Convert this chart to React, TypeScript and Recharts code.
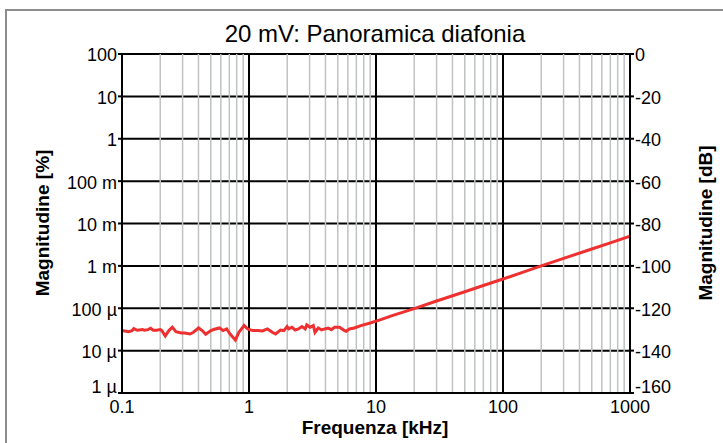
import React from 'react';
import { LineChart, Line, XAxis, YAxis, CartesianGrid, ReferenceLine } from 'recharts';

// Frequency in kHz
const freqKHz = [
  0.1, 0.1127, 0.1202, 0.124, 0.132, 0.1455, 0.15, 0.16, 0.168, 0.176, 0.1875, 0.2, 0.206, 0.219, 0.234,
  0.249, 0.266, 0.292, 0.311, 0.343, 0.365, 0.401, 0.428, 0.456, 0.501, 0.534, 0.587, 0.625, 0.667, 0.71,
  0.781, 0.832, 0.915, 0.975, 1.068, 1.168, 1.277, 1.396, 1.525, 1.618, 1.77, 1.88, 1.995, 2.05, 2.18,
  2.31, 2.45, 2.61, 2.77, 2.85, 3.03, 3.21, 3.31, 3.51, 3.73, 3.95, 4.2, 4.45, 4.72, 5.16,
  5.65, 5.82, 6.18, 6.75, 7.6, 9, 10.9, 13.4, 20, 30, 50, 70, 100, 150, 200,
  300, 500, 700, 1000,
];

// Magnitude in micro-percent (µ%)
const magMicroPct = [
  29.7, 28.1, 29.7, 33.1, 30.2, 31.3, 30.2, 31.3, 33.7, 30.2, 30.2, 31.3, 29.7, 22.2, 29.7,
  35.6, 28.1, 26.1, 26.1, 24.7, 27.1, 34.2, 29.7, 24.3, 29.7, 31.9, 34.2, 29.7, 32.5, 24.7,
  17.8, 27.1, 39.0, 32.5, 29.7, 29.7, 29.2, 32.5, 27.1, 24.7, 30.7, 29.7, 36.9, 32.5, 35.6,
  30.7, 32.5, 36.9, 32.5, 40.4, 35.6, 39.0, 27.1, 34.2, 30.7, 32.5, 34.2, 31.3, 35.6, 35.6,
  29.7, 28.7, 32.5, 34.2, 39.0, 45, 54, 67, 98, 148, 245, 345, 490, 740, 1000,
  1500, 2500, 3500, 5000,
];

const xTicks = [0.1, 1, 10, 100, 1000];
const xTickLabels = ['0.1', '1', '10', '100', '1000'];
const yPctTicks = [100, 10, 1, 0.1, 0.01, 0.001, 0.0001, 0.00001, 0.000001];
const yPctLabels = ['100', '10', '1', '100 m', '10 m', '1 m', '100 µ', '10 µ', '1 µ'];
const yDbTicks = [0, -20, -40, -60, -80, -100, -120, -140, -160];
const decades = [0.1, 1, 10, 100];
const minorMultipliers = [2, 3, 4, 5, 6, 7, 8, 9];
const majorLines = [1, 10, 100];

// dB equivalent of the same magnitude (100 % = 0 dB)
const data = freqKHz.map((f, i) => {
  const m = magMicroPct[i] * 1e-6;
  return { f, m, db: 20 * Math.log10(m / 100) };
});
const minorLines = decades.flatMap((d) => minorMultipliers.map((k) => +(d * k).toPrecision(3)));

const closestLabel = (v: number, ticks: number[], labels: string[]) => {
  let best = 0;
  let bestD = Infinity;
  ticks.forEach((t, i) => {
    const d = Math.abs(Math.log10(t) - Math.log10(v));
    if (d < bestD) { bestD = d; best = i; }
  });
  return labels[best];
};

const FONT = '"Liberation Sans", Arial, sans-serif';

const PctTick = (props: any) => {
  const { x, y, payload, textAnchor } = props;
  const isBottom = payload.value <= 1.01e-6;
  return (
    <text x={x} y={y + (isBottom ? -6 : 1)} dy="0.355em" textAnchor={textAnchor} fill="#000" fontSize={18} fontFamily={FONT}>
      {closestLabel(payload.value, yPctTicks, yPctLabels)}
    </text>
  );
};

const DbTick = (props: any) => {
  const { x, y, payload, textAnchor } = props;
  const isBottom = payload.value <= -160;
  return (
    <text x={x} y={y + (isBottom ? -6 : 1)} dy="0.355em" textAnchor={textAnchor} fill="#000" fontSize={18} fontFamily={FONT}>
      {String(payload.value)}
    </text>
  );
};

export default function App() {
  return (
    <div style={{ position: 'absolute', left: 0, top: 0, width: 723, height: 443, background: '#fff', fontFamily: FONT, overflow: 'hidden' }}>
      <div style={{ position: 'absolute', left: 5, top: 9, width: 730, height: 450, border: '2px solid #8c8c8c', boxSizing: 'border-box' }} />
      <div style={{ position: 'absolute', left: 0, top: 22, width: 750, textAlign: 'center', fontSize: 24, lineHeight: '24px', color: '#000' }}>
        20 mV: Panoramica diafonia
      </div>
      <div style={{ position: 'absolute', left: 42, top: 223, transform: 'translate(-50%,-50%) rotate(-90deg)', whiteSpace: 'nowrap', fontWeight: 'bold', fontSize: 19, lineHeight: '19px', color: '#000' }}>
        Magnitudine [%]
      </div>
      <div style={{ position: 'absolute', left: 705, top: 223, transform: 'translate(-50%,-50%) rotate(-90deg)', whiteSpace: 'nowrap', fontWeight: 'bold', fontSize: 19, lineHeight: '19px', color: '#000' }}>
        Magnitudine [dB]
      </div>
      <div style={{ position: 'absolute', left: 0, top: 418, width: 750, textAlign: 'center', fontWeight: 'bold', fontSize: 19, lineHeight: '19px', color: '#000' }}>
        Frequenza [kHz]
      </div>
      <div style={{ position: 'absolute', left: 0, top: 0 }}>
        <LineChart width={723} height={443} data={data} margin={{ top: 54, right: 0, bottom: 0, left: 0 }} style={{ fontFamily: FONT }}>
          <XAxis
            dataKey="f"
            type="number"
            scale="log"
            domain={[0.1, 1000]}
            ticks={xTicks}
            allowDataOverflow
            height={50}
            tickLine={false}
            tickSize={5}
            tickMargin={2}
            axisLine={{ stroke: '#000', strokeWidth: 2 }}
            tick={{ fill: '#000', fontSize: 18 }}
            tickFormatter={(v: number) => closestLabel(v, xTicks, xTickLabels)}
            interval={0}
          />
          <YAxis
            yAxisId="pct"
            type="number"
            scale="log"
            domain={[0.000001, 100]}
            ticks={yPctTicks}
            allowDataOverflow
            width={122}
            tickSize={4}
            tickMargin={1}
            tickLine={{ stroke: '#000', strokeWidth: 2 }}
            axisLine={{ stroke: '#000', strokeWidth: 2 }}
            tick={<PctTick />}
            interval={0}
          />
          <YAxis
            yAxisId="db"
            orientation="right"
            type="number"
            domain={[-160, 0]}
            ticks={yDbTicks}
            allowDataOverflow
            width={93}
            tickSize={4}
            tickMargin={1}
            tickLine={{ stroke: '#000', strokeWidth: 2 }}
            axisLine={{ stroke: '#000', strokeWidth: 2 }}
            tick={<DbTick />}
            interval={0}
          />
          {minorLines.map((x) => (
            <ReferenceLine key={'mn' + x} x={x} yAxisId="pct" stroke="#bfc3c3" strokeWidth={1.5} />
          ))}
          <CartesianGrid yAxisId="pct" vertical={false} stroke="#000" strokeWidth={2} />
          {majorLines.map((x) => (
            <ReferenceLine key={'mj' + x} x={x} yAxisId="pct" stroke="#000" strokeWidth={2} />
          ))}
          <Line
            yAxisId="db"
            dataKey="db"
            type="linear"
            dot={false}
            stroke="none"
            strokeWidth={0}
            isAnimationActive={false}
          />
          <Line
            yAxisId="pct"
            dataKey="m"
            type="linear"
            dot={false}
            stroke="#ee3030"
            strokeWidth={3}
            isAnimationActive={false}
          />
        </LineChart>
      </div>
    </div>
  );
}
